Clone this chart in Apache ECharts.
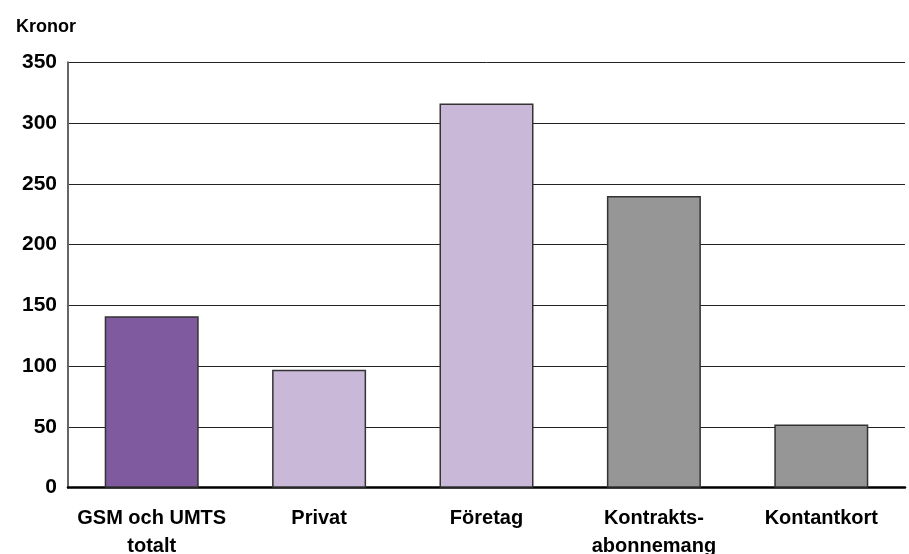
<!DOCTYPE html>
<html><head><meta charset="utf-8">
<script src="https://cdn.jsdelivr.net/npm/echarts@6/dist/echarts.min.js"></script>
<style>html,body{margin:0;padding:0;background:#fff}#c{width:909px;height:554px}</style>
</head><body><div id="c"></div>
<script>
const categories = ["GSM och UMTS\ntotalt", "Privat", "Företag", "Kontrakts-\nabonnemang", "Kontantkort"];
const values = [141, 97, 316, 240, 52];
const barColors = ["#7f5a9e", "#c9b8d8", "#c9b8d8", "#969696", "#969696"];
const yTicks = [0, 50, 100, 150, 200, 250, 300, 350];

const chart = echarts.init(document.getElementById('c'), null, {renderer: 'canvas'});
chart.setOption({
  animation: false,
  backgroundColor: '#fff',
  title: {
    text: 'Kronor', left: 11, top: 13,
    textStyle: {fontFamily: 'Liberation Sans', fontWeight: 'bold', fontSize: 18, color: '#000'}
  },
  grid: {left: 68, right: 4, top: 62.3, bottom: 66.3, outerBoundsMode: 'none', containLabel: false},
  xAxis: {
    type: 'category', data: categories,
    axisLine: {lineStyle: {color: '#000', width: 2.5}},
    axisTick: {show: false},
    axisLabel: {
      interval: 0, margin: 17, lineHeight: 28,
      fontFamily: 'Liberation Sans', fontWeight: 'bold', fontSize: 20, color: '#000'
    }
  },
  yAxis: {
    type: 'value', min: yTicks[0], max: yTicks[yTicks.length - 1], interval: 50,
    axisLine: {show: true, lineStyle: {color: '#666', width: 2}},
    axisTick: {show: false},
    splitLine: {lineStyle: {color: '#222', width: 1}},
    axisLabel: {margin: 11, fontFamily: 'Liberation Sans', fontWeight: 'bold', fontSize: 21, color: '#000'}
  },
  series: [{
    type: 'bar', barWidth: 94,
    data: values.map((v, i) => ({value: v, itemStyle: {color: barColors[i]}})),
    itemStyle: {borderColor: '#333', borderWidth: 1.5}
  }]
});
</script></body></html>
